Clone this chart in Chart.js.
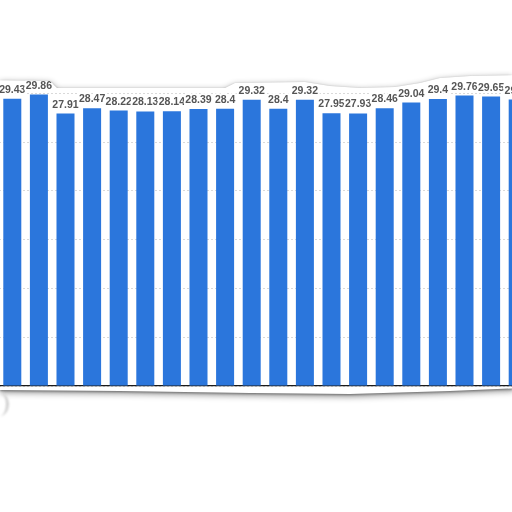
<!DOCTYPE html>
<html><head><meta charset="utf-8">
<script src="https://cdn.jsdelivr.net/npm/chart.js@4.4.0/dist/chart.umd.min.js"></script>
<style>
html,body{margin:0;padding:0;background:#fff;width:512px;height:512px;overflow:hidden}
#shadow{position:absolute;left:0;top:0;width:512px;height:512px;filter:drop-shadow(0 1px 1px rgba(0,0,0,0.35)) drop-shadow(0 2px 3px rgba(0,0,0,0.45))}
#paper{position:absolute;left:0;top:0;width:512px;height:512px;background:#fff;
clip-path:polygon(-10px 80px,50px 81px,57px 88px,225px 88px,235px 83px,305px 82px,330px 86px,360px 88px,395px 87px,420px 83px,440px 78px,470px 76px,522px 75px,522px 388px,450px 391px,350px 394px,250px 393px,120px 391px,-10px 390px)}
#wrap{position:absolute;left:-1.3px;top:0;width:532px;height:512px}
#curl{position:absolute;left:-8px;top:394px;width:14px;height:22px;border-right:3px solid rgba(150,150,150,0.45);border-radius:0 50% 60% 0;filter:blur(1px)}
</style></head>
<body>
<div id="shadow"><div id="paper"><div id="wrap"><canvas id="c" width="532" height="512"></canvas></div></div></div>
<div id="curl"></div>
<script>
const categories = ['1','2','3','4','5','6','7','8','9','10','11','12','13','14','15','16','17','18','19','20'];
const values = [29.43,29.86,27.91,28.47,28.22,28.13,28.14,28.39,28.4,29.32,28.4,29.32,27.95,27.93,28.46,29.04,29.4,29.76,29.65,29.35];
const yMin = 0, yMax = 30, yStep = 5;

const labelPlugin = {
  id: 'barLabels',
  afterDatasetsDraw(chart) {
    const ctx = chart.ctx;
    const meta = chart.getDatasetMeta(0);
    ctx.save();
    ctx.font = 'bold 10.5px "Liberation Sans", Arial, sans-serif';
    ctx.textAlign = 'center';
    ctx.textBaseline = 'alphabetic';
    ctx.lineJoin = 'round';
    meta.data.forEach((bar, i) => {
      const t = String(values[i]);
      ctx.lineWidth = 4;
      ctx.strokeStyle = '#fff';
      ctx.strokeText(t, bar.x, bar.y - 6);
      ctx.fillStyle = '#555555';
      ctx.fillText(t, bar.x, bar.y - 6);
    });
    ctx.restore();
  }
};

new Chart(document.getElementById('c'), {
  type: 'bar',
  data: {
    labels: categories,
    datasets: [{
      data: values,
      backgroundColor: '#2b76dc',
      borderWidth: 0,
      barPercentage: 0.677,
      categoryPercentage: 1
    }]
  },
  options: {
    responsive: false,
    animation: false,
    layout: { padding: { top: 93.2, bottom: 126, left: 0, right: 0 } },
    plugins: { legend: { display: false }, tooltip: { enabled: false } },
    scales: {
      x: {
        ticks: { display: false },
        grid: { display: false, drawTicks: false },
        border: { display: true, color: '#1a1a1a', width: 1.3 },
        afterFit: s => { s.height = 0; }
      },
      y: {
        min: yMin, max: yMax,
        ticks: { display: false, stepSize: yStep },
        grid: { color: '#d9d9d9', drawTicks: false },
        border: { display: false, dash: [2, 2] },
        afterFit: s => { s.width = 0; }
      }
    }
  },
  plugins: [labelPlugin]
});
</script>
</body></html>
